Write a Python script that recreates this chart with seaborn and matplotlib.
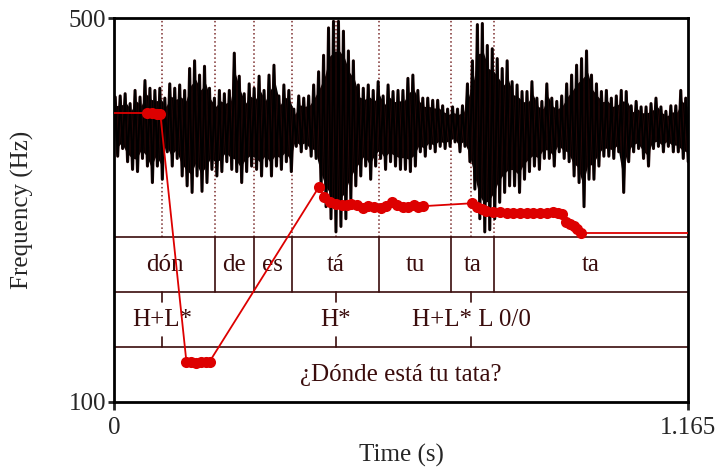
import numpy as np
import pandas as pd
import matplotlib
matplotlib.use("Agg")
import matplotlib.pyplot as plt
import seaborn as sns

sns.set_style("white")
plt.rcParams['font.family'] = ['Liberation Serif', 'DejaVu Serif']

duration = 1.165

# textgrid tiers
syll_bounds = [0.0, 0.205, 0.284, 0.361, 0.538, 0.684, 0.771, 1.165]
syll_labels = ['dón', 'de', 'es', 'tá', 'tu', 'ta', 'ta']
tone_times = [0.097, 0.450, 0.725]
tone_labels = ['H+L*', 'H*', 'H+L* L 0/0']
sentence = '¿Dónde está tu tata?'

# pitch tier (s, Hz)
pitch_t = [0.067, 0.077, 0.087, 0.094,
           0.147, 0.157, 0.167, 0.177, 0.187, 0.194,
           0.416, 0.426, 0.438, 0.451, 0.462, 0.472, 0.482, 0.493, 0.505,
           0.516, 0.528, 0.541, 0.552, 0.564, 0.575, 0.586, 0.597, 0.608,
           0.618, 0.628,
           0.726, 0.736, 0.746, 0.756, 0.770, 0.783, 0.797, 0.810, 0.824,
           0.838, 0.851, 0.865, 0.878, 0.892, 0.902, 0.909, 0.917, 0.926,
           0.934, 0.940, 0.947]
pitch_f = [401, 401, 400, 400,
           142, 142, 141, 142, 142, 142,
           324, 314, 308, 306, 305, 305, 306, 305, 302,
           304, 303, 302, 304, 308, 305, 303, 303, 305,
           303, 304,
           307, 303, 301, 299, 298, 298, 297, 297, 297,
           297, 297, 297, 297, 298, 297, 296, 287, 285,
           283, 280, 276]

# waveform envelope, ~10 ms frames (relative amplitude)
wave_top = [0.28, 0.29, 0.31, 0.22, 0.34, 0.28, 0.43, 0.36, 0.34, 0.36,
            0.27, 0.40, 0.36, 0.39, 0.34, 0.54, 0.61, 0.48, 0.56, 0.36,
            0.27, 0.34, 0.31, 0.34, 0.68, 0.47, 0.31, 0.40, 0.36,
            0.47, 0.34, 0.48, 0.57, 0.29, 0.39, 0.34, 0.17, 0.29, 0.27,
            0.29, 0.39, 0.51, 0.66, 0.91, 0.97, 0.97, 0.88, 0.70, 0.61,
            0.39, 0.36, 0.39, 0.34, 0.42, 0.29, 0.39, 0.33, 0.34,
            0.34, 0.45, 0.48, 0.34, 0.27, 0.27, 0.25, 0.25, 0.20, 0.17,
            0.19, 0.17, 0.20, 0.40, 0.61, 0.94, 0.95, 0.75, 0.72, 0.63,
            0.54, 0.61, 0.42, 0.39, 0.33, 0.33, 0.42, 0.27, 0.24,
            0.40, 0.27, 0.24, 0.29, 0.40, 0.48, 0.57, 0.63, 0.70, 0.48,
            0.40, 0.33, 0.34, 0.27, 0.29, 0.34, 0.33, 0.20, 0.24, 0.19,
            0.19, 0.22, 0.27, 0.19, 0.15, 0.20, 0.20, 0.34, 0.27]
wave_bot = [-0.26, -0.19, -0.31, -0.38, -0.40, -0.28, -0.35, -0.50, -0.35, -0.47,
            -0.22, -0.35, -0.28, -0.44, -0.53, -0.59, -0.44, -0.58, -0.50, -0.38,
            -0.44, -0.40, -0.31, -0.38, -0.40, -0.50, -0.40, -0.35, -0.38,
            -0.44, -0.35, -0.44, -0.35, -0.38, -0.31, -0.40, -0.17, -0.22, -0.19,
            -0.26, -0.28, -0.53, -0.72, -0.83, -0.95, -0.90, -0.83, -0.65, -0.53,
            -0.44, -0.35, -0.47, -0.35, -0.28, -0.38, -0.31, -0.35, -0.38,
            -0.38, -0.40, -0.35, -0.22, -0.26, -0.19, -0.22, -0.17, -0.19, -0.17,
            -0.13, -0.22, -0.17, -0.31, -0.56, -0.83, -0.95, -0.93, -0.83, -0.68,
            -0.59, -0.53, -0.53, -0.59, -0.47, -0.40, -0.35, -0.38, -0.28,
            -0.28, -0.35, -0.22, -0.28, -0.31, -0.44, -0.50, -0.72, -0.47, -0.47,
            -0.35, -0.26, -0.26, -0.28, -0.22, -0.59, -0.31, -0.22, -0.19, -0.28,
            -0.35, -0.19, -0.17, -0.22, -0.17, -0.22, -0.22, -0.28, -0.31]

wave_t = np.linspace(0.005, duration - 0.002, len(wave_top))

tier_col = '#3a0c0c'
dot_col = '#7a2a2a'
red = '#dd0000'
fs = 18

fig = plt.figure(figsize=(7.2, 4.75), dpi=100)
L, B, W, H = 0.1583, 0.1537, 0.7972, 0.8084
wave_ax = fig.add_axes([L, B + H * 3 / 7, W, H * 4 / 7], zorder=0)
ax = fig.add_axes([L, B, W, H], zorder=1)
ax.patch.set_alpha(0)

# waveform: dense core plus spikes zig-zagging between envelope values
wave_ax.set_xlim(0, duration)
wave_ax.set_ylim(-1, 1)
wave_ax.axis('off')
marks = sorted(syll_bounds[1:-1] + tone_times)
for m in marks:
    wave_ax.axvline(m, color=dot_col, ls=':', lw=1.1, zorder=1)
core = 0.72
wave_ax.fill_between(wave_t, np.array(wave_bot) * core, np.array(wave_top) * core,
                     color='black', lw=0, zorder=2)
zz_t = np.column_stack([wave_t - 0.0025, wave_t + 0.0025]).ravel()
zz_a = np.column_stack([wave_top, wave_bot]).ravel()
wave_ax.plot(zz_t, zz_a, color='#2a0808', lw=2.2, zorder=3)
wave_ax.plot(zz_t, zz_a, color='black', lw=1.4, zorder=3)

# tiers
ax.set_xlim(0, duration)
ax.set_ylim(100, 500)
for k in (1, 2, 3):
    ax.axhline(100 + 400 * k / 7, color=tier_col, lw=1.2, zorder=2)
for b in syll_bounds[1:-1]:
    ax.axvline(b, ymin=2 / 7, ymax=3 / 7, color=tier_col, lw=1.2, zorder=2)
for a, b, lab in zip(syll_bounds[:-1], syll_bounds[1:], syll_labels):
    ax.text((a + b) / 2, 0.5 * (2 / 7 + 3 / 7), lab, transform=ax.get_xaxis_transform(),
            ha='center', va='center', fontsize=fs, color=tier_col, zorder=3)
for t, lab in zip(tone_times, tone_labels):
    ax.axvline(t, ymin=2 / 7 - 0.026, ymax=2 / 7, color=tier_col, lw=1.2, zorder=2)
    ax.axvline(t, ymin=1 / 7, ymax=1 / 7 + 0.026, color=tier_col, lw=1.2, zorder=2)
    ax.text(t, 1.5 / 7, lab, transform=ax.get_xaxis_transform(),
            ha='center', va='center', fontsize=fs, color=tier_col, zorder=3)
ax.text(duration / 2, 0.5 / 7, sentence, transform=ax.get_xaxis_transform(),
        ha='center', va='center', fontsize=fs, color=tier_col, zorder=3)

# pitch tier
pitch = pd.DataFrame({'t': pitch_t, 'f': pitch_f})
ax.plot([0, pitch_t[0]], [pitch_f[0], pitch_f[0]], color=red, lw=1.3, zorder=4)
ax.plot([pitch_t[-1], duration], [pitch_f[-1], pitch_f[-1]], color=red, lw=1.3, zorder=4)
sns.lineplot(data=pitch, x='t', y='f', ax=ax, color=red, lw=1.3, sort=False,
             estimator=None, marker='o', markersize=8, markeredgewidth=0, zorder=5)

for s in ax.spines.values():
    s.set_visible(True)
    s.set_linewidth(2)
    s.set_color('black')
ax.set_xticks([0, duration])
ax.set_xticklabels(['0', '1.165'])
ax.set_yticks([100, 500])
ax.set_yticklabels(['100', '500'])
ax.tick_params(axis='x', direction='out', length=6, width=2, pad=5, labelsize=fs, bottom=True)
ax.tick_params(axis='y', direction='out', length=4.5, width=2, pad=1, labelsize=fs, left=True)
ax.set_xlabel('')
ax.set_ylabel('')
ax.text(0.5, -0.138, 'Time (s)', transform=ax.transAxes, ha='center', va='center', fontsize=fs)
ax.text(-0.160, 0.5, 'Frequency (Hz)', transform=ax.transAxes, ha='center', va='center',
        fontsize=fs, rotation=90)

fig.savefig('out.png', dpi=100)
